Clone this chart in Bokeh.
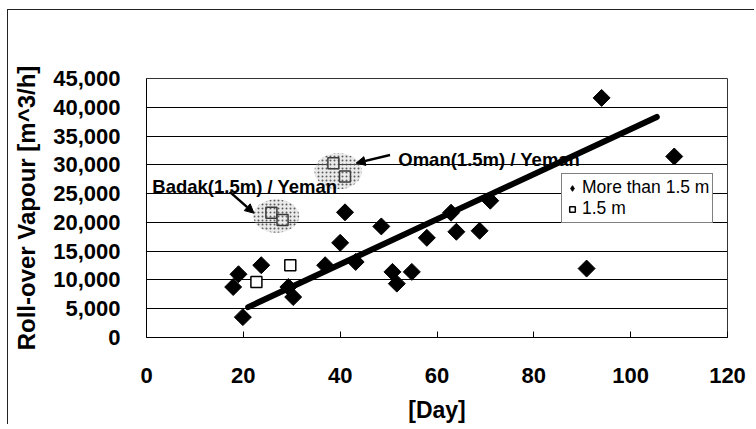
from bokeh.plotting import figure
from bokeh.models import (Range1d, FixedTicker, NumeralTickFormatter, Legend, LegendItem,
                          Arrow, NormalHead)
from bokeh.core.properties import value
from bokeh.embed import file_html
from bokeh.resources import INLINE
import math

# ---- data ----
days_big = [17.9, 19.0, 23.7, 19.9, 29.3, 30.3, 36.9, 40.0, 41.0, 43.2, 48.5,
            50.8, 51.7, 54.8, 57.9, 62.9, 64.0, 68.8, 71.0, 90.9, 94.0, 109.0]
vap_big = [8770, 10990, 12560, 3540, 8770, 7030, 12560, 16450, 21750, 13130, 19300,
           11400, 9360, 11400, 17320, 21680, 18370, 18540, 23770, 11980, 41630, 31450]

days_15 = [22.7, 29.7, 25.8, 28.1, 38.6, 41.0]
vap_15 = [9650, 12560, 21680, 20400, 30290, 27960]

trend_x = [21.0, 105.4]
trend_y = [5280, 38320]

x_ticks = [0, 20, 40, 60, 80, 100, 120]
y_ticks = [0, 5000, 10000, 15000, 20000, 25000, 30000, 35000, 40000, 45000]

note_text = ["Badak(1.5m) / Yeman", "Oman(1.5m) / Yeman"]
note_x = [1.2, 52.0]
note_y = [26300, 31000]

haze_x = [26.8, 39.6]
haze_y = [21100, 28900]
haze_w = [9.5, 9.8]
haze_h = [5800, 6300]

arrow_x0 = [17.2, 50.3]
arrow_y0 = [25300, 31700]
arrow_x1 = [22.2, 43.3]
arrow_y1 = [21600, 30300]

FONT = "Liberation Sans"

p = figure(width=747, height=415, output_backend="svg", toolbar_location=None,
           x_range=Range1d(0, 120), y_range=Range1d(0, 45000),
           min_border_left=138, min_border_right=28, min_border_top=68, min_border_bottom=88)
p.margin = (9, 0, 0, 7)
p.styles = {"border-left": "1px solid #222", "border-top": "1px solid #222"}

p.background_fill_color = "white"
p.border_fill_color = "white"
p.outline_line_color = "#333333"
p.outline_line_width = 1

p.xgrid.visible = False
p.ygrid.grid_line_color = "black"
p.ygrid.grid_line_width = 1
p.ygrid.ticker = FixedTicker(ticks=y_ticks)

p.xaxis.ticker = FixedTicker(ticks=x_ticks)
p.yaxis.ticker = FixedTicker(ticks=y_ticks)
p.yaxis.formatter = NumeralTickFormatter(format="0,0")

for ax in (p.xaxis[0], p.yaxis[0]):
    ax.axis_line_color = "black"
    ax.major_label_text_font = FONT
    ax.major_label_text_font_style = "bold"
    ax.major_label_text_font_size = "22px"
    ax.major_label_text_color = "black"
    ax.axis_label_text_font = FONT
    ax.axis_label_text_font_style = "bold"
    ax.axis_label_text_font_size = "23px"
    ax.axis_label_text_color = "black"
    ax.minor_tick_line_color = None

p.yaxis.axis_label_text_font_size = "24px"

p.xaxis.major_tick_in = 6
p.xaxis.major_tick_out = 0
p.xaxis.major_label_standoff = 30
p.xaxis.axis_label = "[Day]"
p.xaxis.axis_label_standoff = 11

p.yaxis.major_tick_in = 0
p.yaxis.major_tick_out = 0
p.yaxis.major_label_standoff = 26
p.yaxis.axis_label = "Roll-over Vapour [m^3/h]"
p.yaxis.axis_label_standoff = 10

# trend line
p.line(trend_x, trend_y, line_color="black", line_width=6, line_cap="round")

# markers
r_big = p.scatter(days_big, vap_big, marker="square", size=12, angle=math.pi / 4,
                  fill_color="black", line_color="black")
r_15 = p.scatter(days_15, vap_15, marker="square", size=11, fill_color="white",
                 line_color="black", line_width=1.5)

# legend-only proxies (outside the visible range)
leg_big = p.scatter([-100], [-100], marker="diamond", size=16, fill_color="black",
                    line_color="black")
leg_15 = p.scatter([-100], [-100], marker="square", size=10, fill_color="white",
                   line_color="black", line_width=1.5)

# haze ellipses
p.ellipse(haze_x, haze_y, width=haze_w, height=haze_h, fill_color="#bbbbbb", fill_alpha=0.3,
          line_color=None, hatch_pattern="dot", hatch_color="#444444", hatch_scale=4,
          hatch_alpha=0.85)

# annotations
p.text(note_x, note_y, text=note_text, text_font=value(FONT), text_font_style="bold",
       text_font_size="18.5px", text_baseline="middle", text_align="left", text_color="black")

for x0, y0, x1, y1 in zip(arrow_x0, arrow_y0, arrow_x1, arrow_y1):
    p.add_layout(Arrow(x_start=x0, y_start=y0, x_end=x1, y_end=y1, line_width=2.5,
                       line_color="black",
                       end=NormalHead(size=9, fill_color="black", line_color="black")))

legend = Legend(items=[LegendItem(label="More than 1.5 m", renderers=[leg_big]),
                       LegendItem(label="1.5 m", renderers=[leg_15])],
                location=(415, 114), orientation="vertical")
legend.label_text_font = FONT
legend.label_text_font_size = "17.5px"
legend.label_text_color = "black"
legend.glyph_width = 14
legend.glyph_height = 20
legend.label_height = 20
legend.label_standoff = 3
legend.padding = 3
legend.spacing = 0
legend.margin = 0
legend.border_line_color = "black"
legend.border_line_width = 1
legend.background_fill_color = "white"
legend.background_fill_alpha = 1
p.add_layout(legend, "center")

open("out.html", "w").write(file_html(p, INLINE))
